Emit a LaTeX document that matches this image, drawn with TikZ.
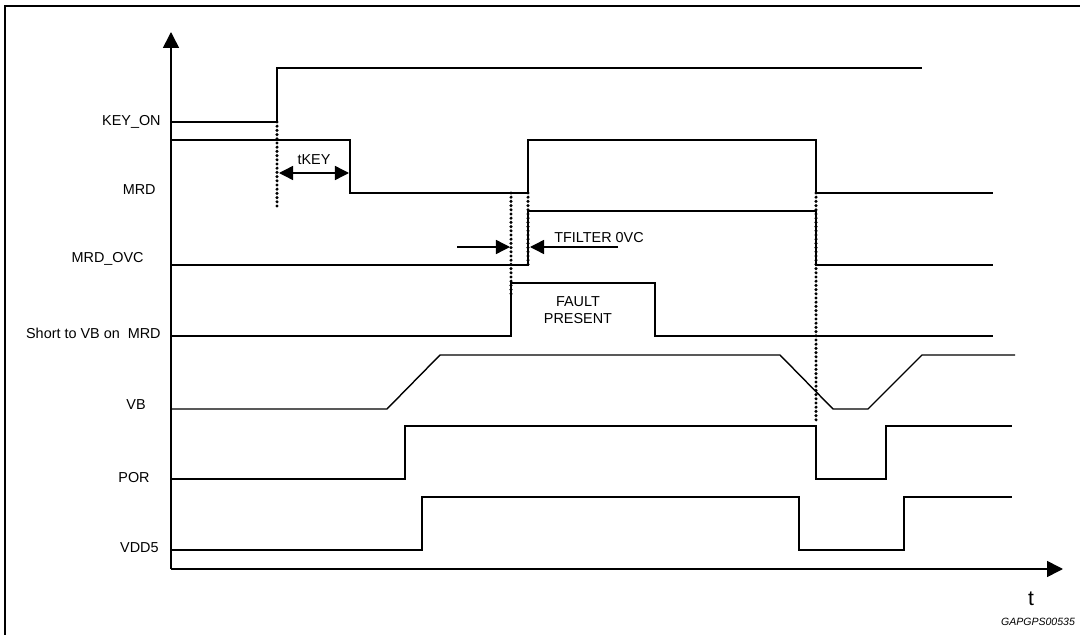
\documentclass[tikz,border=0pt]{standalone}
\usepackage{fontspec}
\setmainfont{Liberation Sans}
\usetikzlibrary{arrows.meta}
\tikzset{
    wave/.style={line width=0.8pt},
    wavelabel/.style={anchor=base east, inner sep=0pt, font=\fontsize{8.2}{9.5}\selectfont},
    timing/.style={line width=0.8pt, -{Triangle[length=8pt,width=8pt]}},
}
\newcommand\TimeAxes[4]{%
    \draw[line width=0.9pt, -{Triangle[length=9pt,width=9pt]}] (#1,#4) -- (#1,#3);
    \draw[line width=0.9pt, -{Triangle[length=9pt,width=9pt]}] (#1,#4) -- (#2,#4);
    \coordinate (Origin) at (#1,#4);
    \coordinate (TimeEnd) at (#2,#4);
}
\newcommand\WaveLabel[4]{%
    \node[wavelabel] (#1) at (#2,#3) {#4};
}
\newcommand\DotMarker[3]{%
    \pgfmathsetmacro\DotNext{#2+4.2}
    \foreach \yy in {#2,\DotNext,...,#3}
        \fill (#1,\yy) circle[radius=1.7];
}

\begin{document}
\begin{tikzpicture}[x=0.02cm, y=-0.02cm]
    \useasboundingbox (0,0) rectangle (1080,635);
    \draw[line width=1.1pt] (5,650) |- (1095,6);
    \TimeAxes{171}{1063}{32}{569}
    \node[anchor=base, inner sep=0pt, font=\fontsize{12}{14}\selectfont] (t) at (1031,605) {t};
    \node[anchor=base, inner sep=0pt, font=\fontsize{6}{7}\selectfont\itshape] (figid) at (1038,625) {GAPGPS00535};
    % signal names
    \WaveLabel{keyon}{161}{126}{KEY\_ON}
    \WaveLabel{mrd}{156}{195}{MRD}
    \WaveLabel{mrdovc}{144}{263}{MRD\_OVC}
    \WaveLabel{short}{161}{338}{Short to VB on\ \ MRD}
    \WaveLabel{vb}{146}{409}{VB}
    \WaveLabel{por}{150}{482}{POR}
    \WaveLabel{vdd}{159}{552}{VDD5}
    % waveforms
    \begin{scope}[wave]
        \draw (171,122) -- (277,122) |- (922,68); % KEY_ON
        \draw (171,140) -| (350,193) -| (528,140) -| (816,193) -- (993,193); % MRD
        \draw (171,265) -| (528,211) -| (816,265) -- (993,265); % MRD_OVC
        \draw (171,336) -| (511,283) -| (655,336) -- (993,336); % short
        \draw (171,409) -- (387,409) -- (440,355) -- (780,355) -- (833,409) -- (868,409) -- (922,355) -- (1015,355); % VB
        \draw (171,479) -| (405,426) -| (816,479) -| (886,426) -- (1012,426); % POR
        \draw (171,550) -| (422,497) -| (799,550) -| (904,497) -- (1012,497); % VDD5
    \end{scope}
    % markers
    \DotMarker{277}{122}{210}
    \DotMarker{511}{193}{296}
    \DotMarker{528}{193}{265}
    \DotMarker{816}{193}{421}
    % tKEY
    \coordinate (keya) at (279,173);
    \coordinate (keyb) at (349,173);
    \draw[line width=0.8pt, {Triangle[length=8pt,width=8pt]}-{Triangle[length=8pt,width=8pt]}] (keya) -- (keyb);
    \node[anchor=base, inner sep=0pt, font=\fontsize{8.2}{9.5}\selectfont] (tkey) at (314,165) {tKEY};
    % filter time
    \coordinate (filta) at (457,247);
    \coordinate (filtb) at (618,247);
    \draw[timing] (filta) -- (510,247);
    \draw[timing] (filtb) -- (530,247);
    \node[anchor=base west, inner sep=0pt, font=\fontsize{8.2}{9.5}\selectfont] (tfilter) at (554,243) {TFILTER 0VC};
    \node[align=center, inner sep=0pt, font=\fontsize{8.2}{9.6}\selectfont] (fault) at (578,310) {FAULT\\PRESENT};
\end{tikzpicture}
\end{document}
